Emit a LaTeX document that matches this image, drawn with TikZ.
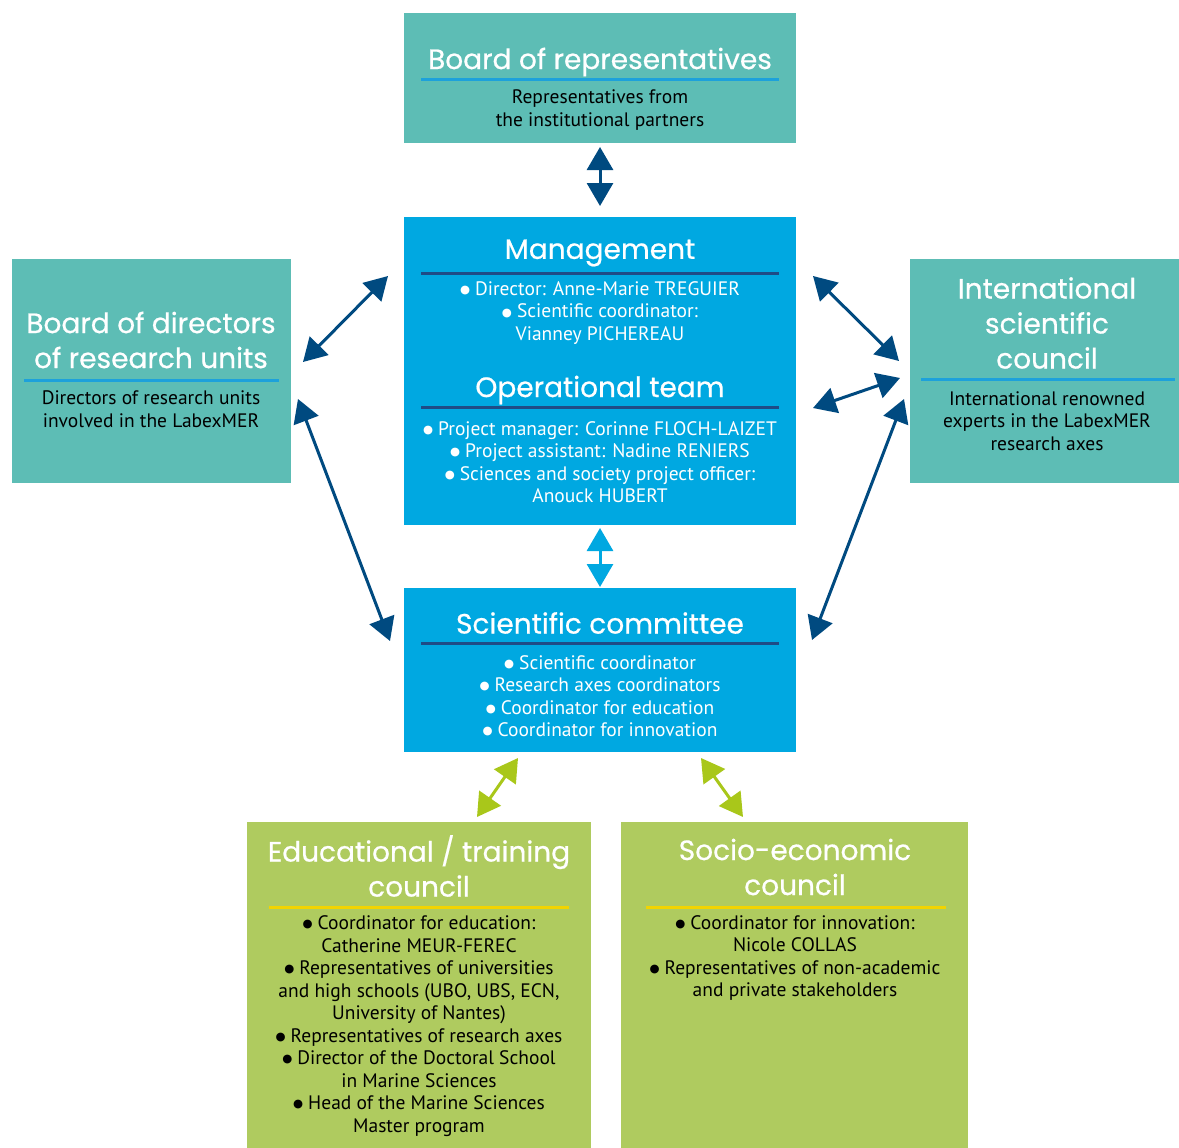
\documentclass[tikz,border=0pt]{standalone}
\usepackage{fontspec}
\setmainfont{PT Sans}
\newfontfamily\titlefont[FakeBold=0.6]{Poppins}
\newfontfamily\dotfont{DejaVu Sans}
\usetikzlibrary{arrows.meta}

% colours of the chart
\definecolor{boardteal}{HTML}{5DBDB5}
\definecolor{mgmtblue}{HTML}{00A8E1}
\definecolor{councilgreen}{HTML}{AFCB5F}
\definecolor{linknavy}{HTML}{004A80}
\definecolor{linkgreen}{HTML}{A9C71A}
\definecolor{ruleblue}{HTML}{1DA1DB}
\definecolor{rulenavy}{HTML}{1F4C86}
\definecolor{ruleyellow}{HTML}{F2D400}

% list bullet
\newcommand{\dotmark}{\raisebox{1.8pt}{\dotfont\fontsize{11.5}{0}\selectfont ●}\hspace{5pt}}

\tikzset{
  box/.style={rectangle, inner sep=0pt, outer sep=0pt, anchor=north west},
  title/.style={text=white, align=center, inner sep=0pt,
    font=\titlefont\fontsize{28}{35}\selectfont},
  body/.style={align=center, inner sep=0pt,
    font=\fontsize{19.5}{22.5}\selectfont},
  rule/.style={line width=3pt},
  link/.style={line width=3pt, {Triangle[length=23pt,width=26pt]}-{Triangle[length=23pt,width=26pt]}}
}

\begin{document}
\begin{tikzpicture}[x=1pt, y=-1pt]

    % --- Canvas (pixel grid of the chart) ---
    \useasboundingbox (0,0) rectangle (1179,1148);

    % --- Boxes ---
    \node[box, fill=boardteal, minimum width=392pt, minimum height=130pt] (reps) at (404,13) {};
    \node[box, fill=mgmtblue, minimum width=392pt, minimum height=308pt] (mgmt) at (404,217) {};
    \node[box, fill=boardteal, minimum width=279pt, minimum height=224pt] (dirs) at (12,259) {};
    \node[box, fill=boardteal, minimum width=269pt, minimum height=224pt] (intl) at (910,259) {};
    \node[box, fill=mgmtblue, minimum width=392pt, minimum height=164pt] (scicom) at (404,588) {};
    \node[box, fill=councilgreen, minimum width=344pt, minimum height=326pt] (edu) at (247,822) {};
    \node[box, fill=councilgreen, minimum width=347pt, minimum height=326pt] (socio) at (621,822) {};

    % --- Board of representatives ---
    \node[title] (repsT) at (600,62) {Board of representatives};
    \draw[rule, ruleblue] (421,80) -- (779,80);
    \node[body] (repsB) at (600,110) {Representatives from\\the institutional partners};

    % --- Management and operational team ---
    \node[title] (mgmtT) at (600,253) {Management};
    \draw[rule, rulenavy] (421,273) -- (779,273);
    \node[body, text=white] (mgmtB) at (600,313)
      {\dotmark Director: Anne-Marie TREGUIER\\
       \dotmark Scientific coordinator:\\
       Vianney PICHEREAU};
    \node[title] (teamT) at (600,390) {Operational team};
    \draw[rule, rulenavy] (421,407) -- (779,407);
    \node[body, text=white] (teamB) at (600,462)
      {\dotmark Project manager: Corinne FLOCH-LAIZET\\
       \dotmark Project assistant: Nadine RENIERS\\
       \dotmark Sciences and society project officer:\\
       Anouck HUBERT};

    % --- Board of directors of research units ---
    \node[title] (dirsT) at (151,340) {Board of directors\\of research units};
    \draw[rule, ruleblue] (24,380) -- (279,380);
    \node[body] (dirsB) at (151,409) {Directors of research units\\involved in the LabexMER};

    % --- International scientific council ---
    \node[title] (intlT) at (1047,323) {International\\scientific\\council};
    \draw[rule, ruleblue] (921,379) -- (1175,379);
    \node[body] (intlB) at (1047,421) {International renowned\\experts in the LabexMER\\research axes};

    % --- Scientific committee ---
    \node[title] (scicomT) at (600,623) {Scientific committee};
    \draw[rule, rulenavy] (421,643) -- (779,643);
    \node[body, text=white] (scicomB) at (600,696)
      {\dotmark Scientific coordinator\\
       \dotmark Research axes coordinators\\
       \dotmark Coordinator for education\\
       \dotmark Coordinator for innovation};

    % --- Educational / training council ---
    \node[title] (eduT) at (419,866) {Educational / training\\council};
    \draw[rule, ruleyellow] (269,907) -- (569,907);
    \node[body] (eduB) at (419,1026)
      {\dotmark Coordinator for education:\\
       Catherine MEUR-FEREC\\
       \dotmark Representatives of universities\\
       and high schools (UBO, UBS, ECN,\\
       University of Nantes)\\
       \dotmark Representatives of research axes\\
       \dotmark Director of the Doctoral School\\
       in Marine Sciences\\
       \dotmark Head of the Marine Sciences\\
       Master program};

    % --- Socio-economic council ---
    \node[title] (socioT) at (795,867) {Socio-economic\\council};
    \draw[rule, ruleyellow] (646,907) -- (946,907);
    \node[body] (socioB) at (795,958)
      {\dotmark Coordinator for innovation:\\
       Nicole COLLAS\\
       \dotmark Representatives of non-academic\\
       and private stakeholders};

    % --- Arrow ends ---
    \coordinate (repsA) at (600,147);
    \coordinate (mgmtA) at (600,206);
    \coordinate (mgmtS) at (600,528);
    \coordinate (scicomN) at (600,587);
    \coordinate (mgmtL) at (388,276);
    \coordinate (dirsR) at (303,362);
    \coordinate (dirsL) at (298,399);
    \coordinate (scicomL) at (390,641);
    \coordinate (mgmtR) at (813,276);
    \coordinate (intlU) at (899,361);
    \coordinate (mgmtM) at (813,408);
    \coordinate (intlM) at (900,378);
    \coordinate (intlD) at (904,399);
    \coordinate (scicomR) at (812,640);
    \coordinate (scicomE) at (518,758);
    \coordinate (eduN) at (477,817);
    \coordinate (scicomS) at (701,758);
    \coordinate (socioN) at (743,817);

    % --- Links ---
    \draw[link, linknavy] (repsA) -- (mgmtA);
    \draw[link, mgmtblue] (mgmtS) -- (scicomN);
    \draw[link, linknavy] (mgmtL) -- (dirsR);
    \draw[link, linknavy] (dirsL) -- (scicomL);
    \draw[link, linknavy] (mgmtR) -- (intlU);
    \draw[link, linknavy] (mgmtM) -- (intlM);
    \draw[link, linknavy] (intlD) -- (scicomR);
    \draw[link, linkgreen] (scicomE) -- (eduN);
    \draw[link, linkgreen] (scicomS) -- (socioN);

\end{tikzpicture}
\end{document}
